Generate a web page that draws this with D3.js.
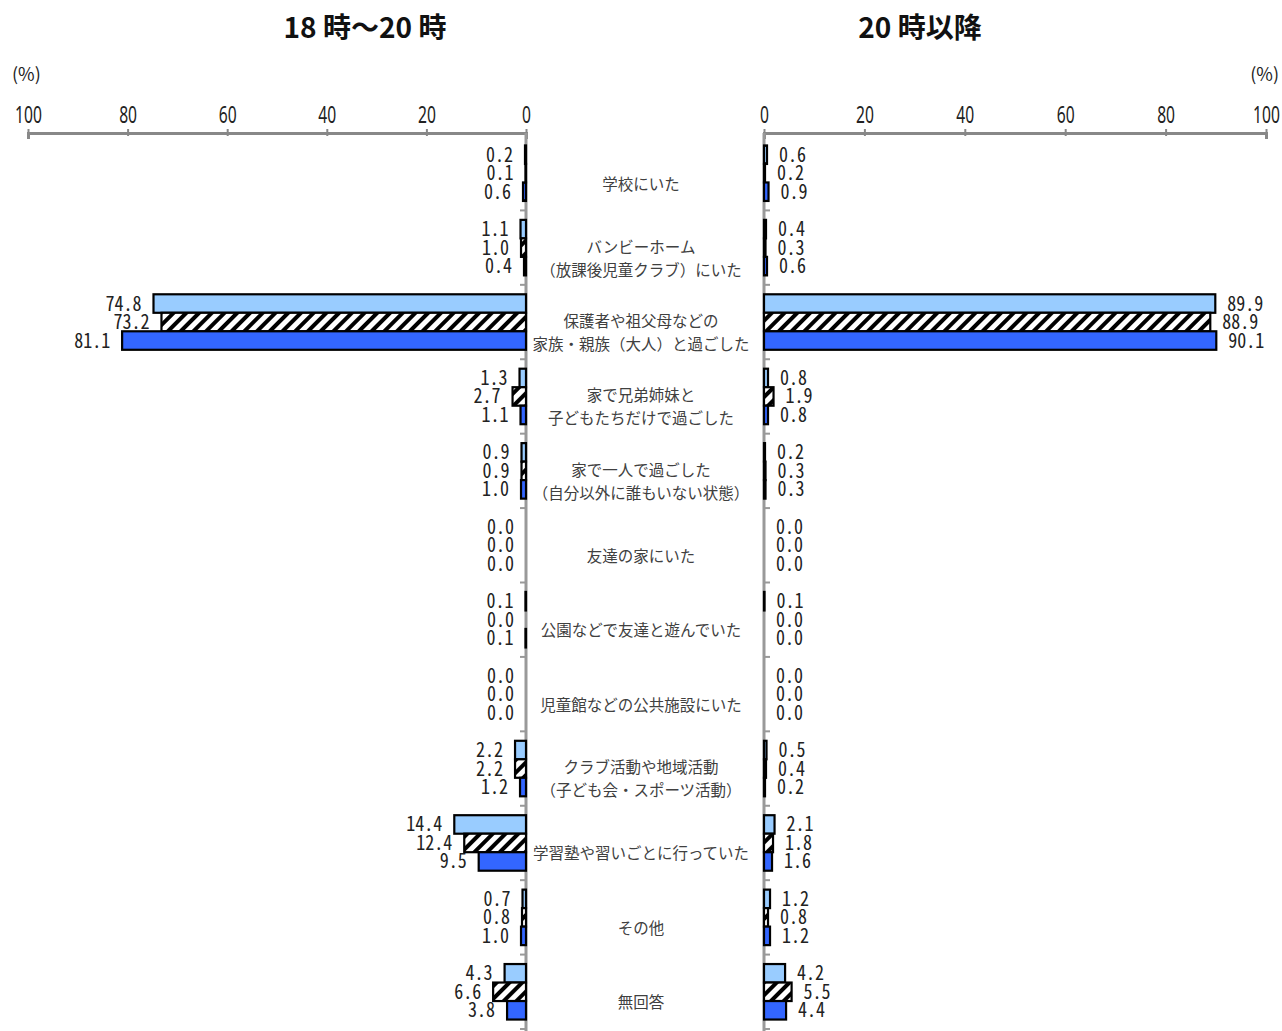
<!DOCTYPE html>
<html>
<head>
<meta charset="utf-8">
<script src="https://cdn.jsdelivr.net/npm/d3@7"></script>
<style>
  body { margin: 0; background: #fff; }
  .num { font-family: "Noto Sans Mono CJK JP", "DejaVu Sans Mono", monospace; font-size: 20px; fill: #222; }
  .tick text { font-family: "Noto Sans", sans-serif; font-size: 23px; fill: #222; }
  .cat { font-family: "Noto Sans CJK JP", sans-serif; font-size: 15.5px; fill: #404040; }
  .pct { font-family: "Noto Sans CJK JP", sans-serif; font-size: 18px; fill: #222; }
  .title { font-family: "Noto Sans CJK JP", sans-serif; font-size: 28px; font-weight: bold; fill: #111; }
</style>
</head>
<body>
<svg id="chart" width="1282" height="1031"></svg>
<script>
const categories = [
    ["学校にいた"],
    ["バンビーホーム", "（放課後児童クラブ）にいた"],
    ["保護者や祖父母などの", "家族・親族（大人）と過ごした"],
    ["家で兄弟姉妹と", "子どもたちだけで過ごした"],
    ["家で一人で過ごした", "（自分以外に誰もいない状態）"],
    ["友達の家にいた"],
    ["公園などで友達と遊んでいた"],
    ["児童館などの公共施設にいた"],
    ["クラブ活動や地域活動", "（子ども会・スポーツ活動）"],
    ["学習塾や習いごとに行っていた"],
    ["その他"],
    ["無回答"]
];

// 18時～20時 : three series per category
const left1 = [0.2, 1.1, 74.8, 1.3, 0.9, 0.0, 0.1, 0.0, 2.2, 14.4, 0.7, 4.3];
const left2 = [0.1, 1.0, 73.2, 2.7, 0.9, 0.0, 0.0, 0.0, 2.2, 12.4, 0.8, 6.6];
const left3 = [0.6, 0.4, 81.1, 1.1, 1.0, 0.0, 0.1, 0.0, 1.2, 9.5, 1.0, 3.8];

// 20時以降
const right1 = [0.6, 0.4, 89.9, 0.8, 0.2, 0.0, 0.1, 0.0, 0.5, 2.1, 1.2, 4.2];
const right2 = [0.2, 0.3, 88.9, 1.9, 0.3, 0.0, 0.0, 0.0, 0.4, 1.8, 0.8, 5.5];
const right3 = [0.9, 0.6, 90.1, 0.8, 0.3, 0.0, 0.0, 0.0, 0.2, 1.6, 1.2, 4.4];

const tickValues = [0, 20, 40, 60, 80, 100];
const fills = ["#99ccff", "url(#hatch)", "#3366ff"];

const svg = d3.select("#chart");

// hatch pattern
const defs = svg.append("defs");
const pat = defs.append("pattern")
    .attr("id", "hatch")
    .attr("patternUnits", "userSpaceOnUse")
    .attr("width", 9).attr("height", 9)
    .attr("patternTransform", "rotate(45)");
pat.append("rect").attr("width", 9).attr("height", 9).attr("fill", "#fff");
pat.append("rect").attr("width", 4).attr("height", 9).attr("fill", "#000");

const xL = d3.scaleLinear().domain([0, 100]).range([526, 28]);
const xR = d3.scaleLinear().domain([0, 100]).range([764, 1266]);
const y = d3.scaleBand().domain(d3.range(categories.length)).range([136, 1029]);
const barH = 18.5;

const axisY = 133;

// titles
svg.append("text").attr("class", "title").attr("x", 365).attr("y", 38)
    .attr("text-anchor", "middle").text("18 時～20 時");
svg.append("text").attr("class", "title").attr("x", 920).attr("y", 38)
    .attr("text-anchor", "middle").text("20 時以降");

svg.append("text").attr("class", "pct")
    .attr("x", 12).attr("y", 81).text("(%)");
svg.append("text").attr("class", "pct")
    .attr("x", 1279).attr("y", 81).attr("text-anchor", "end").text("(%)");

// axes
function drawAxis(scale) {
    const g = svg.append("g").attr("transform", `translate(0,${axisY})`)
        .call(d3.axisTop(scale).tickValues(tickValues).tickSize(4).tickSizeOuter(-6).tickPadding(6));
    g.select(".domain").attr("stroke", "#888").attr("stroke-width", 3).attr("fill", "none");
    g.selectAll(".tick line").attr("stroke", "#888").attr("stroke-width", 2).attr("y1", 3);
    g.selectAll(".tick text").attr("transform", "scale(0.68,1)");
    return g;
}
drawAxis(xL);
drawAxis(xR);

// vertical center lines with category ticks
[[526, -1], [764, 1]].forEach(([x, dir]) => {
    svg.append("line").attr("x1", x).attr("x2", x).attr("y1", axisY).attr("y2", 1031)
        .attr("stroke", "#999").attr("stroke-width", 3);
    svg.selectAll(null).data(d3.range(1, categories.length + 1)).enter().append("line")
        .attr("x1", x).attr("x2", x + dir * 6)
        .attr("y1", i => y(0) + i * y.step()).attr("y2", i => y(0) + i * y.step())
        .attr("stroke", "#999").attr("stroke-width", 2);
});

function drawSide(series, scale, side) {
    series.forEach((vals, s) => {
        const g = svg.append("g");
        g.selectAll("rect").data(vals).enter().append("rect")
            .attr("x", d => side < 0 ? scale(d) : scale(0))
            .attr("y", (d, i) => y(i) + y.bandwidth() / 2 - 1.5 * barH + s * barH)
            .attr("width", d => Math.abs(scale(d) - scale(0)))
            .attr("height", barH)
            .attr("fill", fills[s])
            .attr("stroke", "#000")
            .attr("stroke-width", 2.2);
        g.selectAll("text").data(vals).enter().append("text")
            .attr("class", "num")
            .attr("transform", (d, i) =>
                `translate(${scale(d) + side * 12},${y(i) + y.bandwidth() / 2 - barH + s * barH}) scale(0.9,1)`)
            .attr("dy", "0.35em")
            .attr("text-anchor", side < 0 ? "end" : "start")
            .text(d => d.toFixed(1));
    });
}
drawSide([left1, left2, left3], xL, -1);
drawSide([right1, right2, right3], xR, 1);

// category labels
const cx = 641;
categories.forEach((lines, i) => {
    const c = y(i) + y.bandwidth() / 2 + 11;
    const t = svg.append("text").attr("class", "cat").attr("text-anchor", "middle");
    lines.forEach((ln, k) => {
        t.append("tspan").attr("x", cx)
            .attr("y", c + (k - (lines.length - 1) / 2) * 23)
            .attr("dy", "0.35em")
            .text(ln);
    });
});
</script>
</body>
</html>
